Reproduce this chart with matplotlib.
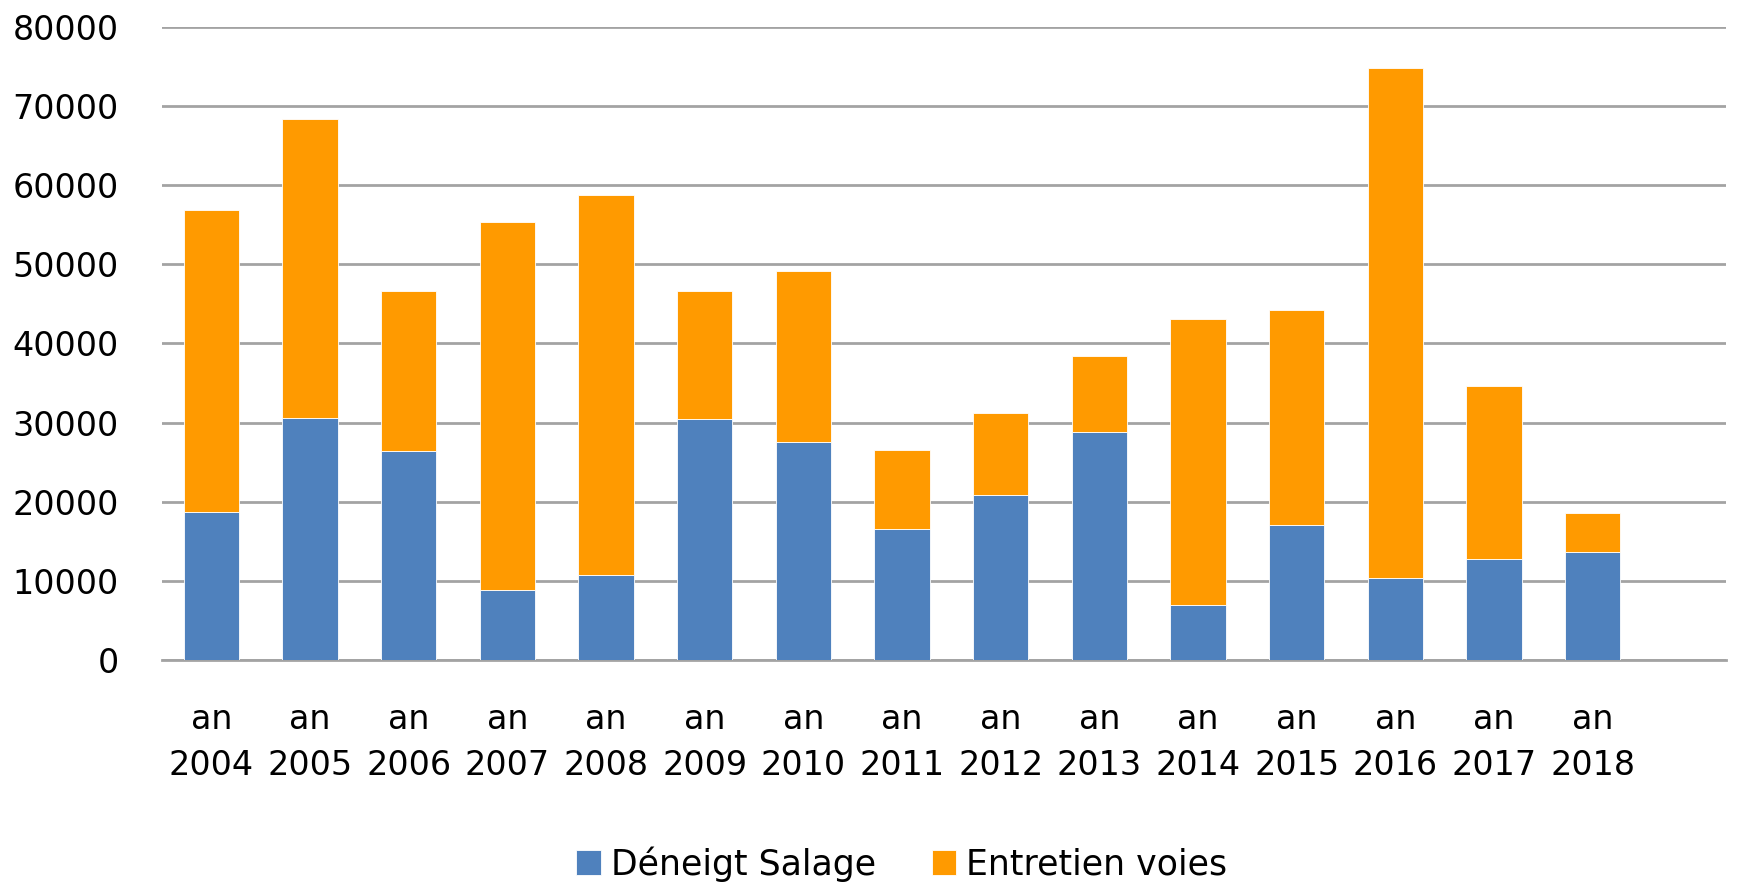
import matplotlib
matplotlib.use("Agg")
import matplotlib.pyplot as plt

years = ["2004", "2005", "2006", "2007", "2008", "2009", "2010", "2011",
         "2012", "2013", "2014", "2015", "2016", "2017", "2018"]
deneigt_salage = [18700, 30600, 26400, 8900, 10700, 30400, 27500, 16600,
                  20800, 28800, 7000, 17100, 10400, 12800, 13600]
totals = [56900, 68400, 46600, 55300, 58800, 46600, 49200, 26600,
          31200, 38400, 43100, 44200, 74800, 34600, 18600]
entretien_voies = [t - d for t, d in zip(totals, deneigt_salage)]
series_names = ["Déneigt Salage", "Entretien voies"]
yticks = [0, 10000, 20000, 30000, 40000, 50000, 60000, 70000, 80000]

plt.rcParams['font.family'] = ['DejaVu Sans']

fig = plt.figure(figsize=(17.48, 8.84), dpi=100)
ax = fig.add_axes([162/1748, 1 - 660/884, (1726-162)/1748, (660-27)/884])

x = list(range(len(years)))
w = 0.56
blue = "#4F81BD"
orange = "#FF9A00"
ax.bar(x, deneigt_salage, width=w, color=blue, edgecolor="white", linewidth=0.6,
       label=series_names[0], zorder=3)
ax.bar(x, entretien_voies, width=w, bottom=deneigt_salage, color=orange,
       edgecolor="white", linewidth=0.6, label=series_names[1], zorder=3)

ax.set_xlim(-0.5, 15.35)
ax.set_ylim(0, 80000)
ax.set_yticks(yticks)
ax.set_yticklabels([str(v) for v in yticks], fontsize=24)
ax.set_xticks(x)
ax.set_xticklabels(["an\n" + y for y in years], fontsize=24, linespacing=1.5)
ax.tick_params(axis='both', length=0)
ax.tick_params(axis='y', pad=31)
ax.tick_params(axis='x', pad=31)
ax.grid(axis='y', color="#A3A3A3", linewidth=2, zorder=0)
for s in ["top", "right", "left"]:
    ax.spines[s].set_visible(False)
ax.spines["bottom"].set_color("#A3A3A3")
ax.spines["bottom"].set_linewidth(2)

fig.legend(loc="center", bbox_to_anchor=(0.516, 1 - 864/884), ncol=2,
           frameon=False, fontsize=25, handlelength=0.7, handleheight=0.75,
           handletextpad=0.3, columnspacing=1.6)

fig.savefig("out.png", dpi=100)
